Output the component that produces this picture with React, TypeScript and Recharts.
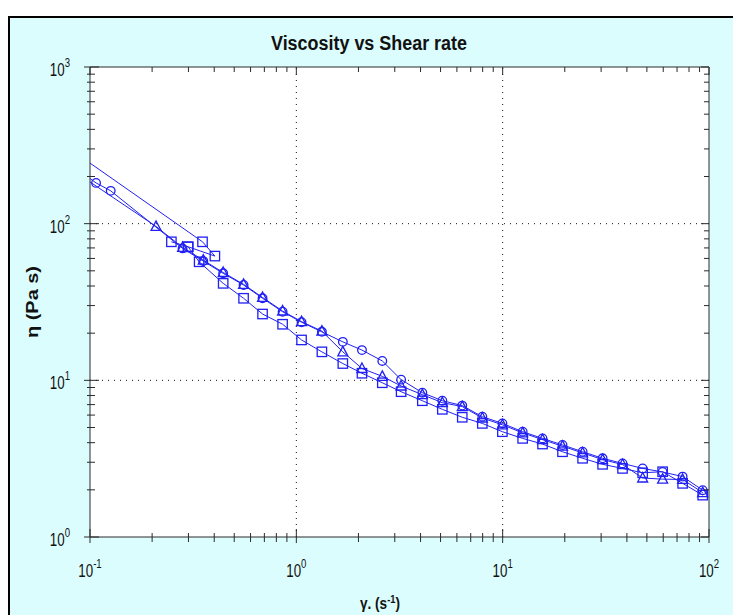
import { LineChart, Line, XAxis, YAxis, CartesianGrid, ReferenceLine } from "recharts";

const BLUE = "#2020f4";
const AXIS = "#2a2a2a";
const FONT = "'Liberation Sans', Arial, sans-serif";

// run 1 - circles
const circleRate = [0.08, 0.107, 0.126, 0.281, 0.354, 0.442, 0.555, 0.686, 0.858, 1.06, 1.33, 1.68, 2.08, 2.61, 3.22, 4.08, 5.1, 6.37, 7.97, 9.97, 12.5, 15.6, 19.5, 24.4, 30.5, 38.1, 47.7, 59.6, 74.5, 93.2];
const circleVisc = [240, 182, 162, 69.5, 57.7, 48.2, 40.6, 33.4, 27.4, 23.5, 20.4, 17.6, 15.6, 13.3, 10.1, 8.34, 7.41, 6.9, 5.86, 5.31, 4.7, 4.26, 3.87, 3.5, 3.18, 2.95, 2.74, 2.6, 2.43, 1.99];

// run 2 - triangles
const triRate = [0.08, 0.209, 0.281, 0.354, 0.442, 0.555, 0.686, 0.858, 1.06, 1.33, 1.68, 2.08, 2.61, 3.22, 4.08, 5.1, 6.37, 7.97, 9.97, 12.5, 15.6, 19.5, 24.4, 30.5, 38.1, 47.7, 59.6, 74.5, 93.2];
const triVisc = [225, 96, 70.5, 58.5, 48.8, 41, 33.8, 27.7, 23.7, 20.6, 15.2, 11.9, 10.6, 9.2, 8.1, 7.2, 6.8, 5.75, 5.2, 4.62, 4.18, 3.8, 3.44, 3.12, 2.9, 2.38, 2.34, 2.33, 1.92];

// run 3 - squares
const squareRate = [0.248, 0.299, 0.338, 0.442, 0.555, 0.686, 0.858, 1.06, 1.33, 1.68, 2.08, 2.61, 3.22, 4.08, 5.1, 6.37, 7.97, 9.97, 12.5, 15.6, 19.5, 24.4, 30.5, 38.1, 47.7, 59.6, 74.5, 93.2];
const squareVisc = [76.6, 71.2, 57.1, 41.6, 33.4, 26.5, 22.8, 18.1, 15.2, 12.8, 11.1, 9.65, 8.46, 7.41, 6.53, 5.81, 5.31, 4.7, 4.26, 3.92, 3.5, 3.18, 2.91, 2.74, 2.57, 2.61, 2.2, 1.85];

// run 4 - short low-rate squares
const lowRate = [0.06, 0.351, 0.403, 0.299];
const lowVisc = [390, 76.6, 62.1, 71.2];

const xTicks = [0.1, 0.2, 0.3, 0.4, 0.5, 0.6, 0.7, 0.8, 0.9, 1, 2, 3, 4, 5, 6, 7, 8, 9, 10, 20, 30, 40, 50, 60, 70, 80, 90, 100];
const yTicks = [1, 2, 3, 4, 5, 6, 7, 8, 9, 10, 20, 30, 40, 50, 60, 70, 80, 90, 100, 200, 300, 400, 500, 600, 700, 800, 900, 1000];
const xGrid = [1, 10];
const yGrid = [10, 100];

const toPoints = (rate: number[], visc: number[]) => rate.map((x, i) => ({ x, y: visc[i] }));

const isDecade = (v: number) => {
  const l = Math.log10(v);
  return Math.abs(l - Math.round(l)) < 1e-6;
};

function Pow({ x, y, exp, anchor }: { x: number; y: number; exp: number; anchor: "start" | "middle" | "end" }) {
  return (
    <text transform={`translate(${x},${y}) scale(0.74,1)`} textAnchor={anchor} fontFamily={FONT} fontSize={18} fill="#111">
      10<tspan dy={-9} fontSize={13}>{exp}</tspan>
    </text>
  );
}

function BottomTick({ x, y, payload }: any) {
  const major = isDecade(payload.value);
  return (
    <g>
      <line x1={x} x2={x} y1={y - (major ? 8 : 4)} y2={y + (major ? 6 : 5)} stroke={AXIS} />
      {major && <Pow x={x} y={y + 40} exp={Math.round(Math.log10(payload.value))} anchor="middle" />}
    </g>
  );
}

function TopTick({ x, y, payload }: any) {
  const major = isDecade(payload.value);
  return <line x1={x} x2={x} y1={y} y2={y + (major ? 8 : 5)} stroke={AXIS} />;
}

function LeftTick({ x, y, payload }: any) {
  const major = isDecade(payload.value);
  return (
    <g>
      <line x1={x - (major ? 6 : 3)} x2={x + (major ? 9 : 5)} y1={y} y2={y} stroke={AXIS} />
      {major && <Pow x={x - 20} y={y + 9} exp={Math.round(Math.log10(payload.value))} anchor="end" />}
    </g>
  );
}

function RightTick({ x, y, payload }: any) {
  const major = isDecade(payload.value);
  return <line x1={x - (major ? 8 : 5)} x2={x} y1={y} y2={y} stroke={AXIS} />;
}

const circleDot = (p: any) => (
  <circle key={`c${p.index}`} cx={p.cx} cy={p.cy} r={4.3} fill="none" stroke={BLUE} strokeWidth={1.3} />
);
const squareDot = (p: any) => (
  <rect key={`s${p.index}`} x={p.cx - 4.7} y={p.cy - 4.7} width={9.4} height={9.4} fill="none" stroke={BLUE} strokeWidth={1.3} />
);
const triDot = (p: any) => (
  <path key={`t${p.index}`} d={`M${p.cx},${p.cy - 5.5}L${p.cx + 5},${p.cy + 4}L${p.cx - 5},${p.cy + 4}Z`} fill="none" stroke={BLUE} strokeWidth={1.3} />
);

const runs = [
  { key: "circle", data: toPoints(circleRate, circleVisc), dot: circleDot },
  { key: "tri", data: toPoints(triRate, triVisc), dot: triDot },
  { key: "square", data: toPoints(squareRate, squareVisc), dot: squareDot },
  { key: "low", data: toPoints(lowRate, lowVisc), dot: squareDot },
];

export default function App() {
  return (
    <div>
      <div
        style={{
          position: "fixed",
          left: 8,
          top: 16,
          width: 725,
          height: 599,
          boxSizing: "border-box",
          borderLeft: "2px solid #000",
          borderTop: "2px solid #000",
          background: "#dcfdfd",
        }}
      />
      <div style={{ position: "fixed", left: 0, top: 0 }}>
        <LineChart width={733} height={615} margin={{ top: 57, right: 14, bottom: 38, left: 30 }}>
          <CartesianGrid fill="#fff" horizontal={false} vertical={false} />
          <XAxis
            dataKey="x"
            type="number"
            scale="log"
            domain={[0.1, 100]}
            allowDataOverflow
            ticks={xTicks}
            interval={0}
            tick={<BottomTick />}
            tickLine={false}
            tickSize={0}
            tickMargin={0}
            axisLine={{ stroke: AXIS }}
            height={40}
          />
          <XAxis
            xAxisId="top"
            orientation="top"
            dataKey="x"
            type="number"
            scale="log"
            domain={[0.1, 100]}
            allowDataOverflow
            ticks={xTicks}
            interval={0}
            tick={<TopTick />}
            tickLine={false}
            tickSize={0}
            tickMargin={0}
            axisLine={{ stroke: AXIS }}
            height={10}
          />
          <YAxis
            type="number"
            scale="log"
            domain={[1, 1000]}
            allowDataOverflow
            ticks={yTicks}
            interval={0}
            tick={<LeftTick />}
            tickLine={false}
            tickSize={0}
            tickMargin={0}
            axisLine={{ stroke: AXIS }}
            width={60}
          />
          <YAxis
            yAxisId="right"
            orientation="right"
            type="number"
            scale="log"
            domain={[1, 1000]}
            allowDataOverflow
            ticks={yTicks}
            interval={0}
            tick={<RightTick />}
            tickLine={false}
            tickSize={0}
            tickMargin={0}
            axisLine={{ stroke: AXIS }}
            width={10}
          />
          {xGrid.map((v) => (
            <ReferenceLine key={`gx${v}`} x={v} stroke="#111" strokeDasharray="1 5" />
          ))}
          {yGrid.map((v) => (
            <ReferenceLine key={`gy${v}`} y={v} stroke="#111" strokeDasharray="1 5" />
          ))}
          {runs.map((r) => (
            <Line
              key={r.key}
              data={r.data}
              dataKey="y"
              type="linear"
              stroke={BLUE}
              strokeWidth={1}
              dot={r.dot}
              activeDot={false}
              isAnimationActive={false}
            />
          ))}
        </LineChart>
      </div>
      <svg width={733} height={615} style={{ position: "fixed", left: 0, top: 0, pointerEvents: "none" }}>
        <text
          x={369}
          y={50}
          textAnchor="middle"
          fontFamily={FONT}
          fontWeight="bold"
          fontSize={20}
          textLength={196}
          lengthAdjust="spacingAndGlyphs"
          fill="#111"
        >
          Viscosity vs Shear rate
        </text>
        <text
          transform="translate(38,302) rotate(-90)"
          textAnchor="middle"
          fontFamily={FONT}
          fontWeight="bold"
          fontSize={16}
          textLength={72}
          lengthAdjust="spacingAndGlyphs"
          fill="#111"
        >
          η (Pa s)
        </text>
        <text transform="translate(380,609) scale(0.85,1)" textAnchor="middle" fontFamily={FONT} fontWeight="bold" fontSize={16} fill="#111">
          γ. (s<tspan dy={-6} fontSize={11}>-1</tspan>
          <tspan dy={6}>)</tspan>
        </text>
      </svg>
    </div>
  );
}
